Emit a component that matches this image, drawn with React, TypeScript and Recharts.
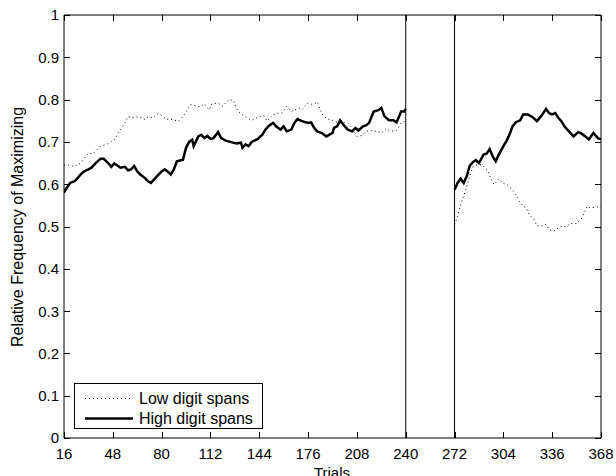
import React from 'react';
import { LineChart, Line, XAxis, YAxis, ReferenceLine, Legend } from 'recharts';

// Low digit spans, first block (trials 16-240)
const lowTrialsA = [16, 18, 23, 27, 31, 36, 40, 45, 49, 53, 56, 58, 61, 65, 69, 71, 74, 78, 83, 87, 91, 94, 99, 105, 108, 111, 113, 117, 120, 124, 127, 130, 133, 136, 139, 144, 147, 149, 153, 156, 159, 162, 165, 170, 172, 176, 179, 182, 184, 186, 189, 192, 195, 198, 202, 204, 208, 211, 214, 218, 221, 224, 227, 230, 234, 237, 240];
const lowValuesA = [0.645, 0.646, 0.642, 0.65, 0.67, 0.675, 0.69, 0.696, 0.705, 0.729, 0.745, 0.76, 0.757, 0.76, 0.753, 0.759, 0.757, 0.768, 0.754, 0.753, 0.749, 0.76, 0.788, 0.783, 0.79, 0.776, 0.79, 0.792, 0.784, 0.8, 0.798, 0.772, 0.764, 0.757, 0.751, 0.76, 0.762, 0.749, 0.764, 0.768, 0.768, 0.784, 0.772, 0.78, 0.776, 0.792, 0.788, 0.794, 0.776, 0.761, 0.754, 0.751, 0.746, 0.745, 0.745, 0.737, 0.713, 0.715, 0.725, 0.727, 0.725, 0.721, 0.731, 0.725, 0.727, 0.745, 0.749];

// Low digit spans, second block (trials 272-368)
const lowTrialsB = [272, 274, 276, 278, 280, 282, 284, 287, 290, 294, 296, 298, 301, 304, 307, 310, 312, 314, 317, 319, 321, 324, 326, 329, 332, 334, 337, 340, 343, 345, 348, 352, 355, 357, 359, 361, 365, 368];
const lowValuesB = [0.505, 0.524, 0.552, 0.572, 0.595, 0.619, 0.641, 0.646, 0.646, 0.631, 0.611, 0.599, 0.613, 0.602, 0.597, 0.587, 0.576, 0.562, 0.548, 0.544, 0.528, 0.517, 0.501, 0.502, 0.505, 0.493, 0.489, 0.497, 0.501, 0.499, 0.507, 0.507, 0.517, 0.532, 0.548, 0.544, 0.546, 0.548];

// High digit spans, first block
const highTrialsA = [16, 17, 20, 23, 25, 27, 29, 32, 34, 36, 38, 40, 42, 45, 47, 49, 51, 53, 56, 58, 60, 62, 64, 66, 69, 71, 73, 75, 77, 80, 82, 84, 86, 88, 90, 92, 94, 96, 98, 100, 101, 104, 106, 108, 110, 112, 114, 117, 119, 122, 125, 129, 132, 133, 135, 137, 139, 143, 146, 148, 150, 153, 155, 158, 160, 162, 165, 167, 169, 172, 176, 178, 180, 182, 185, 188, 190, 192, 193, 195, 197, 199, 202, 205, 207, 209, 212, 214, 216, 219, 222, 224, 226, 229, 232, 234, 237, 239, 240];
const highValuesA = [0.58, 0.587, 0.603, 0.607, 0.615, 0.623, 0.63, 0.635, 0.639, 0.647, 0.654, 0.66, 0.66, 0.65, 0.641, 0.649, 0.644, 0.639, 0.641, 0.633, 0.635, 0.643, 0.63, 0.623, 0.615, 0.607, 0.603, 0.611, 0.619, 0.63, 0.635, 0.63, 0.623, 0.635, 0.654, 0.656, 0.658, 0.686, 0.7, 0.705, 0.69, 0.713, 0.717, 0.709, 0.714, 0.707, 0.709, 0.723, 0.709, 0.703, 0.7, 0.696, 0.698, 0.686, 0.694, 0.69, 0.7, 0.707, 0.717, 0.729, 0.737, 0.745, 0.737, 0.729, 0.737, 0.725, 0.729, 0.745, 0.754, 0.749, 0.745, 0.746, 0.733, 0.725, 0.721, 0.713, 0.717, 0.721, 0.733, 0.737, 0.751, 0.741, 0.729, 0.725, 0.733, 0.727, 0.737, 0.739, 0.745, 0.772, 0.775, 0.78, 0.761, 0.751, 0.751, 0.746, 0.772, 0.772, 0.778];

// High digit spans, second block
const highTrialsB = [272, 274, 276, 278, 280, 282, 284, 286, 288, 291, 293, 295, 297, 299, 301, 304, 306, 308, 310, 312, 315, 317, 320, 323, 326, 329, 332, 334, 336, 338, 340, 342, 344, 347, 350, 353, 355, 358, 360, 363, 366, 368];
const highValuesB = [0.587, 0.603, 0.613, 0.603, 0.619, 0.644, 0.652, 0.657, 0.65, 0.67, 0.672, 0.683, 0.666, 0.654, 0.67, 0.69, 0.702, 0.717, 0.737, 0.746, 0.751, 0.765, 0.765, 0.759, 0.749, 0.762, 0.778, 0.768, 0.765, 0.768, 0.757, 0.749, 0.737, 0.725, 0.713, 0.723, 0.72, 0.712, 0.706, 0.721, 0.709, 0.706];

const xTicks = [16, 48, 80, 112, 144, 176, 208, 240, 272, 304, 336, 368];
const yTicks = [0, 0.1, 0.2, 0.3, 0.4, 0.5, 0.6, 0.7, 0.8, 0.9, 1];
const yTickLabels = ['0', '0.1', '0.2', '0.3', '0.4', '0.5', '0.6', '0.7', '0.8', '0.9', '1'];
const blockEdges = [240, 272];

const FONT = '"Liberation Sans", Arial, Helvetica, sans-serif';
const TICK_LEN = 6;
const X_GAP = 10; // label gap below the x axis
const Y_GAP = 5; // label gap left of the y axis

const zip = (ts: number[], vs: number[]) => ts.map((t, i) => ({ t, v: vs[i] }));

const lowA = zip(lowTrialsA, lowValuesA);
const lowB = zip(lowTrialsB, lowValuesB);
const highA = zip(highTrialsA, highValuesA);
const highB = zip(highTrialsB, highValuesB);

const LOW_DASH = '1 3';

const snap = (v: number) => Math.round(v) + 0.5;

// ticks point inward, matlab style
const BottomTick = (p: any) => {
  const y0 = p.y - X_GAP;
  const x = snap(p.x);
  return (
    <g>
      <line x1={x} x2={x} y1={y0} y2={y0 - TICK_LEN} stroke="#000" strokeWidth={1} />
      <text x={p.x} y={p.y} dy="0.75em" textAnchor="middle" fontSize={15} fontFamily={FONT} fill="#000">
        {p.payload.value}
      </text>
    </g>
  );
};

const TopTick = (p: any) => {
  const x = snap(p.x);
  return <line x1={x} x2={x} y1={p.y} y2={p.y + TICK_LEN} stroke="#000" strokeWidth={1} />;
};

const LeftTick = (p: any) => {
  const x0 = p.x + Y_GAP;
  const y = snap(p.y);
  return (
    <g>
      <line x1={x0} x2={x0 + TICK_LEN} y1={y} y2={y} stroke="#000" strokeWidth={1} />
      <text x={p.x} y={p.y} dy="0.36em" textAnchor="end" fontSize={15} fontFamily={FONT} fill="#000">
        {yTickLabels[yTicks.indexOf(p.payload.value)]}
      </text>
    </g>
  );
};

const RightTick = (p: any) => {
  const y = snap(p.y);
  return <line x1={p.x} x2={p.x - TICK_LEN} y1={y} y2={y} stroke="#000" strokeWidth={1} />;
};

// legend box
const LegendBox = () => (
  <svg width={190} height={47} style={{ display: 'block' }}>
    <rect x={0.5} y={0.5} width={188} height={45} fill="#fff" stroke="#000" strokeWidth={1} />
    <line x1={11} x2={59} y1={15.5} y2={15.5} stroke="#000" strokeWidth={1} strokeDasharray={LOW_DASH} />
    <text x={65} y={21} fontSize={16} fontFamily={FONT} fill="#000">Low digit spans</text>
    <line x1={11} x2={59} y1={35.5} y2={35.5} stroke="#000" strokeWidth={2.5} />
    <text x={65} y={41} fontSize={16} fontFamily={FONT} fill="#000">High digit spans</text>
  </svg>
);

const App = () => {
  return (
    <div style={{ position: 'absolute', left: 0, top: 0, width: 616, height: 476, background: '#fff' }}>
      <LineChart width={616} height={476} margin={{ top: 14, right: 14, bottom: 8, left: 24 }}>
        <XAxis
          xAxisId={0}
          dataKey="t"
          type="number"
          domain={[16, 368]}
          ticks={xTicks}
          allowDataOverflow
          height={30}
          tickLine={false}
          tickSize={0}
          tickMargin={X_GAP}
          stroke="#000"
          tick={(p: any) => <BottomTick {...p} />}
          label={{
            content: () => (
              <text x={332} y={478} textAnchor="middle" fontSize={15} fontFamily={FONT} fill="#000">Trials</text>
            ),
          }}
        />
        <XAxis
          xAxisId="top"
          orientation="top"
          dataKey="t"
          type="number"
          domain={[16, 368]}
          ticks={xTicks}
          allowDataOverflow
          height={1}
          tickLine={false}
          tickSize={0}
          tickMargin={0}
          stroke="#000"
          tick={(p: any) => <TopTick {...p} />}
        />
        <YAxis
          yAxisId={0}
          type="number"
          domain={[0, 1]}
          ticks={yTicks}
          allowDataOverflow
          width={40}
          tickLine={false}
          tickSize={0}
          tickMargin={Y_GAP}
          stroke="#000"
          tick={(p: any) => <LeftTick {...p} />}
          label={{
            content: () => (
              <text x={23} y={227} transform="rotate(-90 23 227)" textAnchor="middle" fontSize={16} fontFamily={FONT} fill="#000">
                Relative Frequency of Maximizing
              </text>
            ),
          }}
        />
        <YAxis
          yAxisId="right"
          orientation="right"
          type="number"
          domain={[0, 1]}
          ticks={yTicks}
          allowDataOverflow
          width={1}
          tickLine={false}
          tickSize={0}
          tickMargin={0}
          stroke="#000"
          tick={(p: any) => <RightTick {...p} />}
        />
        {blockEdges.map((x) => (
          <ReferenceLine key={x} x={x} xAxisId={0} yAxisId={0} stroke="#000" strokeWidth={1} />
        ))}
        <Line data={lowA} dataKey="v" xAxisId={0} yAxisId={0} type="linear" stroke="#000" strokeWidth={1} strokeDasharray={LOW_DASH} dot={false} isAnimationActive={false} />
        <Line data={lowB} dataKey="v" xAxisId={0} yAxisId={0} type="linear" stroke="#000" strokeWidth={1} strokeDasharray={LOW_DASH} dot={false} isAnimationActive={false} />
        <Line data={highA} dataKey="v" xAxisId={0} yAxisId={0} type="linear" stroke="#000" strokeWidth={2.5} dot={false} isAnimationActive={false} />
        <Line data={highB} dataKey="v" xAxisId={0} yAxisId={0} type="linear" stroke="#000" strokeWidth={2.5} dot={false} isAnimationActive={false} />
        <Legend
          layout="vertical"
          align="center"
          verticalAlign="middle"
          wrapperStyle={{ position: 'absolute', left: 74, top: 383, width: 190, height: 47 }}
          content={() => <LegendBox />}
        />
      </LineChart>
    </div>
  );
};

export default App;
